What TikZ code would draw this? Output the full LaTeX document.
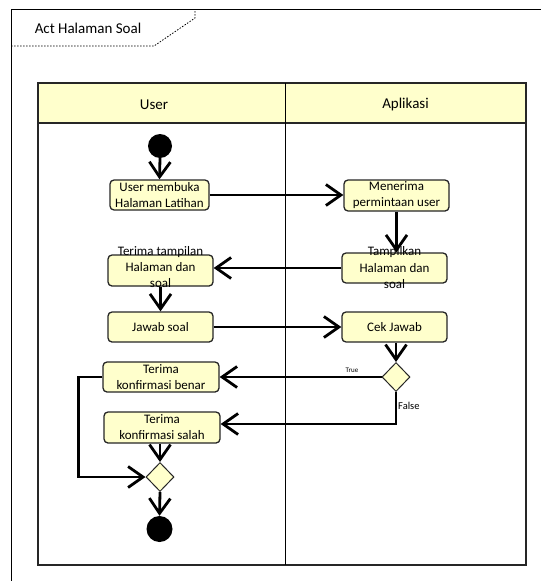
\documentclass[tikz,border=0pt]{standalone}
\usepackage{fontspec}
\setmainfont{Carlito}
\usetikzlibrary{arrows.meta,shapes.geometric}
\definecolor{actfill}{HTML}{FFFFCC}
\begin{document}
\begin{tikzpicture}[x=1pt,y=-1pt,
  actbox/.style={draw=black!85,line width=1.3pt,rounded corners=4pt,fill=actfill,inner sep=0pt,minimum height=30pt},
  acttext/.style={font=\fontsize{13}{16}\selectfont,align=center,inner sep=0pt},
  flow/.style={line width=2.8pt,-{Straight Barb[length=15pt,width=21pt]}},
  decision/.style={shape=diamond,draw=black!85,line width=1pt,fill=actfill,inner sep=0pt,minimum width=28pt,minimum height=29pt},
  dot/.style={circle,fill=black,inner sep=0pt},
  lane/.style={draw=black!85,line width=1.3pt},
  framedots/.style={line width=0.8pt,dash pattern=on 1.5pt off 1.5pt}
]
\useasboundingbox (0,0) rectangle (541,581);
% outer frame
\draw[line width=0.8pt] (11,581) -- (11,9) -- (541,9);
\draw[framedots] (11,46) -- (154,46) -- (195,18) -- (195,9);
\node[font=\fontsize{15}{18}\selectfont] (title) at (88,28) {Act Halaman Soal};
% swimlanes
\draw[lane,fill=actfill] (38,83) rectangle (526,123);
\draw[lane] (38,83) rectangle (526,565);
\draw[line width=0.9pt] (285.5,83) -- (285.5,565);
\node[font=\fontsize{15}{18}\selectfont] (hUser) at (154,105) {User};
\node[font=\fontsize{15}{18}\selectfont] (hApp) at (405.5,104) {Aplikasi};
% nodes
\node[dot,minimum size=24pt] (start) at (160,146) {};
\node[actbox,minimum width=99pt] (umb) at (159.5,195) {};
\node[acttext] at (umb) {User membuka\\Halaman Latihan};
\node[actbox,minimum width=105pt,minimum height=31pt] (men) at (396.5,195.5) {};
\node[acttext] at (men) {Menerima\\permintaan user};
\node[actbox,minimum width=105pt] (tamp) at (394.5,268) {};
\node[acttext,font=\fontsize{13}{16.5}\selectfont] at (tamp) {Tampilkan\\Halaman dan\\soal};
\node[actbox,minimum width=105pt,minimum height=31pt] (terT) at (160.5,270.5) {};
\node[acttext,font=\fontsize{13}{16}\selectfont] at (160.5,267) {Terima tampilan\\Halaman dan\\soal};
\node[actbox,minimum width=105pt] (jaw) at (160.5,327) {};
\node[acttext] at (jaw) {Jawab soal};
\node[actbox,minimum width=105pt] (cek) at (394.5,327) {};
\node[acttext] at (cek) {Cek Jawab};
\node[decision] (dec) at (396,377) {};
\node[actbox,minimum width=116pt] (ben) at (161,377) {};
\node[acttext] at (ben) {Terima\\konfirmasi benar};
\node[actbox,minimum width=116pt,minimum height=31pt] (sal) at (162,427.5) {};
\node[acttext] at (sal) {Terima\\konfirmasi salah};
\node[decision] (mer) at (160,477) {};
\node[dot,minimum size=26pt] (fin) at (159.5,529) {};
% connectors
\draw[flow] (start.south) -- (umb.north);
\draw[flow] (umb.east) -- (umb.east -| men.west);
\draw[flow] (men.south) -- (men.south |- tamp.north);
\draw[flow] (tamp.west) -- (tamp.west -| terT.east);
\draw[flow] (terT.south) -- (terT.south |- jaw.north);
\draw[flow] (jaw.east) -- (cek.west);
\draw[flow] (cek.south -| dec.north) -- (dec.north);
\draw[flow] (dec.west) -- (ben.east);
\node[font=\fontsize{7}{8}\selectfont] (tTrue) at (352,370) {True};
\draw[flow] (dec.south) |- ([yshift=3.5pt]sal.east);
\node[font=\fontsize{10.5}{12}\selectfont,anchor=west,inner sep=0pt] (tFalse) at (398,406) {False};
\draw[flow] (ben.west) -- ++(-24,0) |- (mer.west);
\draw[flow] (sal.south -| mer.north) -- (mer.north);
\draw[flow] (mer.south) -- (fin.north);
\end{tikzpicture}
\end{document}
